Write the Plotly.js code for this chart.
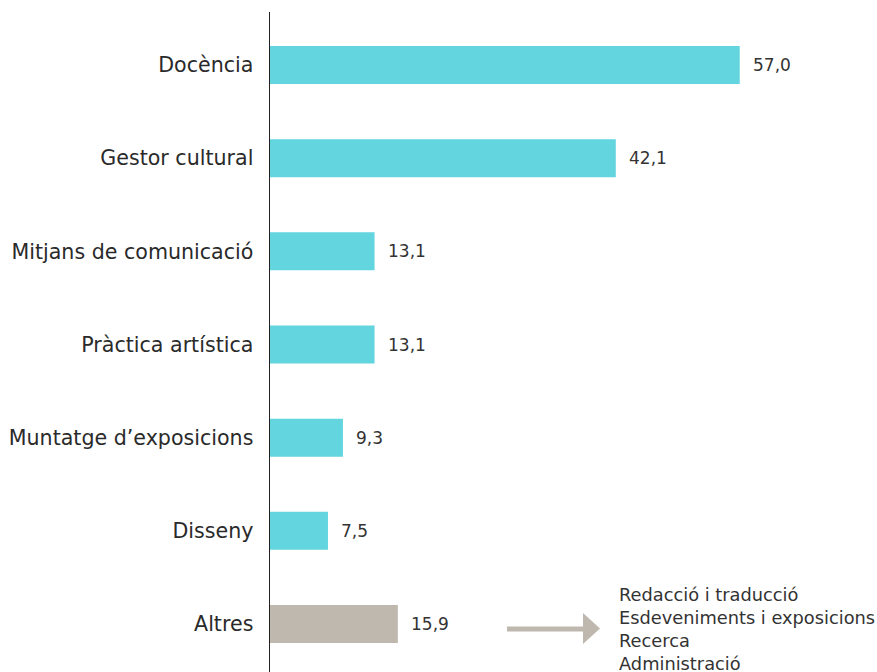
<!DOCTYPE html>
<html>
<head>
<meta charset="utf-8">
<script src="https://cdn.plot.ly/plotly-3.0.1.min.js"></script>
<style>html,body{margin:0;padding:0;background:#fff;}#chart{width:877px;height:672px;}</style>
</head>
<body>
<div id="chart"></div>
<script>
const categories = ["Docència", "Gestor cultural", "Mitjans de comunicació", "Pràctica artística", "Muntatge d’exposicions", "Disseny", "Altres"];
const values = [57.0, 42.1, 13.1, 13.1, 9.3, 7.5, 15.9];
const barColors = ["#63d5df", "#63d5df", "#63d5df", "#63d5df", "#63d5df", "#63d5df", "#bfb8ae"];
const altresDetail = ["Redacció i traducció", "Esdeveniments i exposicions", "Recerca", "Administració"];

const labelText = values.map(v => v.toFixed(1).replace('.', ','));

const W = 877, H = 672, L = 270, T = 12;
const pw = W - L, ph = H - T;
const px = x => (x - L) / pw;
const py = y => (H - y) / ph;
const FONT = '"DejaVu Sans", sans-serif';

const trace = {
  type: 'bar',
  orientation: 'h',
  y: categories,
  x: values,
  width: 0.408,
  marker: {color: barColors, line: {width: 0}},
  hoverinfo: 'none'
};

const annotations = categories.map((c, i) => ({
  x: values[i], y: c, xref: 'x', yref: 'y',
  text: labelText[i], showarrow: false,
  xanchor: 'left', yanchor: 'middle', xshift: 11,
  font: {family: FONT, size: 17, color: '#333333'}
}));

annotations.push({
  xref: 'paper', yref: 'paper',
  x: px(617), y: py(582),
  xanchor: 'left', yanchor: 'top', align: 'left',
  text: altresDetail.join('<br>'),
  showarrow: false,
  font: {family: FONT, size: 17.8, color: '#333333'}
});

const shapes = [
  {type: 'line', xref: 'paper', yref: 'paper', x0: px(507), x1: px(586), y0: py(629), y1: py(629),
   line: {color: '#bfb8ae', width: 5}},
  {type: 'path', xref: 'paper', yref: 'paper',
   path: `M ${px(583)} ${py(613)} L ${px(600)} ${py(628.5)} L ${px(583)} ${py(644)} Z`,
   fillcolor: '#bfb8ae', line: {width: 0}}
];

const layout = {
  width: W, height: H,
  margin: {l: L, r: 0, t: T, b: 0, pad: 0},
  paper_bgcolor: '#ffffff', plot_bgcolor: '#ffffff',
  showlegend: false,
  xaxis: {range: [0.53, 73.5], visible: false, fixedrange: true},
  yaxis: {
    type: 'category', categoryorder: 'array', categoryarray: categories,
    range: [6.515, -0.569],
    showline: true, linecolor: '#222222', linewidth: 1.5,
    showgrid: false, zeroline: false, ticks: '',
    ticklabelstandoff: 11,
    tickfont: {family: FONT, size: 20.6, color: '#2a2a2a'}
  },
  annotations: annotations,
  shapes: shapes
};

Plotly.newPlot('chart', [trace], layout, {displayModeBar: false, staticPlot: true});
</script>
</body>
</html>
